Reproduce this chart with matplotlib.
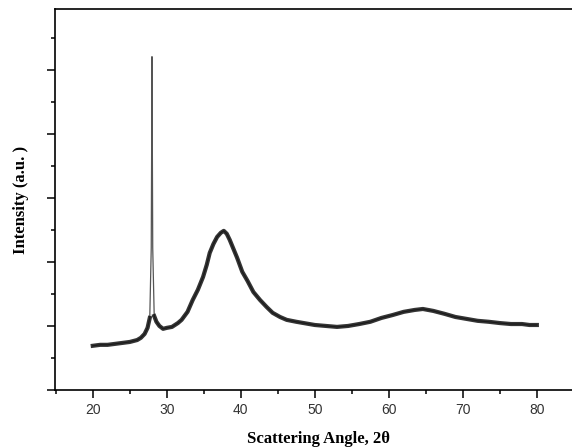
import numpy as np
import matplotlib
matplotlib.use('Agg')
import matplotlib.pyplot as plt
from matplotlib.ticker import MultipleLocator

# scattering angle (2 theta) and intensity
two_theta = [20.0, 21.0, 22.0, 23.0, 24.0, 25.0, 26.0, 26.5, 27.0, 27.4, 27.7,
             27.9, 27.97, 28.0, 28.03, 28.1,
             28.3, 28.6, 29.0, 29.5, 30.0, 30.7, 31.5, 32.0, 32.8, 33.5,
             34.2, 34.9, 35.4, 35.8, 36.3, 36.8, 37.3, 37.7, 38.1, 38.5,
             39.0, 39.5, 40.2, 40.9, 41.7, 42.6, 43.5, 44.3, 45.3, 46.2,
             47.5, 48.5, 50.0, 51.5, 53.0, 54.5, 56.0, 57.5, 59.0, 60.5,
             62.0, 63.5, 64.6, 66.0, 67.5, 69.0, 70.5, 72.0, 73.5, 75.0,
             76.5, 78.0, 79.0, 80.0]
intensity = [1.38, 1.41, 1.41, 1.44, 1.47, 1.50, 1.56, 1.63, 1.75, 1.94, 2.25,
             4.44, 8.44, 10.41, 8.75, 4.44,
             2.31, 2.13, 2.00, 1.91, 1.94, 1.97, 2.09, 2.19, 2.44, 2.81,
             3.13, 3.53, 3.91, 4.28, 4.56, 4.78, 4.91, 4.97, 4.88, 4.69,
             4.41, 4.13, 3.69, 3.41, 3.06, 2.81, 2.59, 2.41, 2.28, 2.19,
             2.13, 2.09, 2.03, 2.00, 1.97, 2.00, 2.06, 2.13, 2.25, 2.34,
             2.44, 2.50, 2.53, 2.47, 2.38, 2.28, 2.22, 2.16, 2.13, 2.09,
             2.06, 2.06, 2.03, 2.03]

x = np.array(two_theta)
y = np.array(intensity)
spike = (x > 27.8) & (x < 28.2)

fig = plt.figure(figsize=(5.72, 4.48), dpi=100)
ax = fig.add_axes([0.0962, 0.1295, 0.92, 0.8505])

# thin grey line carries the sharp reflection, thick line mimics the noisy band
ax.plot(x, y, color='#555555', lw=0.9)
ax.plot(x, np.ma.masked_where(spike, y), color='#111111', lw=3.0, alpha=0.85)

ax.set_xlim(14.9, 86)
ax.set_ylim(0, 11.9)
ax.xaxis.set_major_locator(MultipleLocator(10))
ax.xaxis.set_minor_locator(MultipleLocator(5))
ax.yaxis.set_major_locator(MultipleLocator(2))
ax.yaxis.set_minor_locator(MultipleLocator(1))
ax.set_xticks(range(20, 81, 10))
ax.set_yticklabels([])
ax.tick_params(which='major', direction='out', length=5.5, width=1.1)
ax.tick_params(which='minor', direction='out', length=3, width=1.1)
ax.tick_params(axis='x', labelsize=10, pad=4)
for lab in ax.get_xticklabels():
    lab.set_fontfamily('Liberation Sans')
    lab.set_color('#333333')

for s in ['left', 'bottom', 'top']:
    ax.spines[s].set_linewidth(1.2)
ax.spines['right'].set_visible(False)

ax.set_xlabel('Scattering Angle, 2θ', fontfamily='Liberation Serif',
              fontweight='bold', fontsize=12)
ax.set_ylabel('Intensity (a.u. )', fontfamily='Liberation Serif',
              fontweight='bold', fontsize=12)
ax.xaxis.set_label_coords(0.5, -0.107)
ax.yaxis.set_label_coords(-0.05, 0.5)

fig.savefig('out.png', dpi=100)
